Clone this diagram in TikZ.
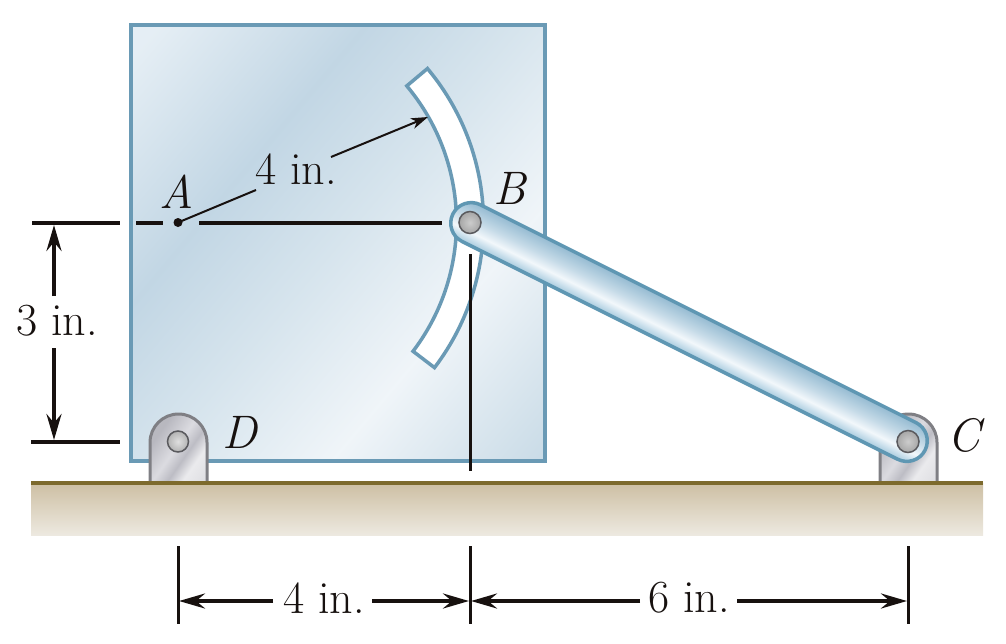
\documentclass[tikz,border=0pt]{standalone}
\usetikzlibrary{arrows.meta,shapes.misc}
\definecolor{plateedge}{HTML}{6A9AB5}
\definecolor{baredge}{HTML}{5F97B3}
\definecolor{ink}{HTML}{17110F}
\definecolor{groundline}{HTML}{7D6A2D}
\definecolor{groundtop}{HTML}{CDBFA3}
\definecolor{groundbot}{HTML}{EDE9E0}
\definecolor{pinedge}{HTML}{5A5A5E}
\definecolor{clevisedge}{HTML}{7F7F84}
\pgfdeclarehorizontalshading{plateshade}{100bp}{
  rgb(0bp)=(0.90,0.935,0.96);
  rgb(17bp)=(0.90,0.935,0.96);
  rgb(36bp)=(0.76,0.84,0.895);
  rgb(50bp)=(0.84,0.895,0.93);
  rgb(66bp)=(0.94,0.96,0.975);
  rgb(85bp)=(0.79,0.86,0.905);
  rgb(100bp)=(0.79,0.86,0.905)}
\pgfdeclareverticalshading{barshade}{100bp}{
  rgb(0bp)=(0.65,0.79,0.87);
  rgb(25bp)=(0.65,0.79,0.87);
  rgb(40bp)=(0.95,0.97,0.985);
  rgb(54bp)=(0.78,0.86,0.91);
  rgb(75bp)=(0.58,0.73,0.82);
  rgb(100bp)=(0.58,0.73,0.82)}
\pgfdeclarehorizontalshading{metalshade}{100bp}{
  rgb(0bp)=(0.72,0.72,0.75);
  rgb(30bp)=(0.72,0.72,0.75);
  rgb(48bp)=(0.86,0.86,0.88);
  rgb(58bp)=(0.74,0.74,0.77);
  rgb(68bp)=(0.92,0.92,0.93);
  rgb(100bp)=(0.82,0.82,0.84)}
\tikzset{
  x=1pt,y=-1pt,
  lab/.style={inner sep=0pt,outer sep=0pt,text=ink,font=\fontsize{46}{46}\selectfont},
  ilab/.style={lab,font=\fontsize{47}{47}\selectfont\itshape},
  heavy/.style={draw=ink,line width=4pt},
  medium/.style={draw=ink,line width=3pt},
  dimarrow/.style={heavy,-{Stealth[length=26pt,width=15pt,inset=9pt]}},
  radarrow/.style={draw=ink,line width=2pt,-{Stealth[length=17pt,width=11pt,inset=5pt]}},
  clevis/.style={draw=clevisedge,line width=3pt,shading=metalshade,shading angle=-35},
  pin/.style={circle,inner sep=0pt,minimum size=22pt,draw=pinedge,line width=1.5pt,inner color=gray!40,outer color=gray!70},
  hole/.style={circle,inner sep=0pt,minimum size=21pt,draw=pinedge,line width=1.5pt,inner color=gray!25,outer color=gray!60},
}
\begin{document}
\begin{tikzpicture}
\useasboundingbox (0,0) rectangle (1006,643);
% ground
\path[bottom color=groundbot,top color=groundtop] (31,483) rectangle (983,535);
% plate
\path[shading=plateshade,shading angle=-40] (131,25) rectangle (545,461);
\draw[plateedge,line width=4.5pt] (131,25) rectangle (545,461);
% slot
\draw[plateedge,fill=white,line width=3.5pt,line join=miter]
  plot[domain=-40:37.3,samples=60] ({244+239.5*cos(\x)},{222.5+239.5*sin(\x)})
  -- plot[domain=37.3:-40,samples=60] ({244+212.5*cos(\x)},{222.5+212.5*sin(\x)}) -- cycle;
% clevises
\draw[clevis] (150,482) -- (150,442.5) arc[start angle=180,end angle=0,radius=28.5pt] -- (207,482);
\draw[clevis] (880,482) -- (880,442.5) arc[start angle=180,end angle=0,radius=28.5pt] -- (937,482);
\draw[groundline,line width=4pt] (31,483) -- (983,483);
% named points
\coordinate (A) at (178,222.5);
\coordinate (Bpt) at (470,222.5);
\coordinate (Cpt) at (908,441.5);
\coordinate (Dpt) at (178,441.5);
\coordinate (vb1) at (470,254);
\coordinate (vb2) at (470,471);
\draw[medium] (vb1) -- (vb2);
% bar
\begin{scope}[transform canvas={rotate around={-26.565:(689,332)}}]
\node[rounded rectangle,inner sep=0pt,minimum width=528pt,minimum height=41pt,
  draw=baredge,line width=3.5pt,shading=barshade] (bar) at (689,332) {};
\end{scope}
% pins
\node[pin] (pinB) at (Bpt) {};
\node[pin] (pinC) at (Cpt) {};
\node[hole] (pinD) at (Dpt) {};
% horizontal extension at A
\coordinate (e1) at (32,222.5); \coordinate (e2) at (120,222.5);
\coordinate (e3) at (136,222.5); \coordinate (e4) at (163,222.5);
\coordinate (e5) at (199,222.5); \coordinate (e6) at (442,222.5);
\coordinate (e7) at (31,441.5); \coordinate (e8) at (120,441.5);
\draw[heavy] (e1) -- (e2);
\draw[heavy] (e3) -- (e4);
\draw[heavy] (e5) -- (e6);
\draw[heavy] (e7) -- (e8);
% A point
\fill[ink] (A) circle[radius=4.5pt];
% radius
\node[lab] (r4) at (296,169) {4 in.};
\coordinate (r1) at (256,190);
\coordinate (r2) at (331,157);
\coordinate (r3) at (428,117);
\draw[draw=ink,line width=2pt] (A) -- (r1);
\draw[radarrow] (r2) -- (r3);
% labels
\node[ilab] (la) at (177,192) {A};
\node[ilab] (lb) at (510,188) {B};
\node[ilab] (lc) at (964,435) {C};
\node[ilab] (ld) at (240,432) {D};
% 3 in.
\node[lab] (d3) at (57,321) {3 in.};
\coordinate (v1) at (54,296); \coordinate (v2) at (54,225);
\coordinate (v3) at (54,348); \coordinate (v4) at (54,440);
\draw[dimarrow] (v1) -- (v2);
\draw[dimarrow] (v3) -- (v4);
% bottom dims
\coordinate (t1a) at (178,546); \coordinate (t1b) at (178,624);
\coordinate (t2a) at (470,546); \coordinate (t2b) at (470,624);
\coordinate (t3a) at (908,546); \coordinate (t3b) at (908,624);
\draw[medium] (t1a) -- (t1b);
\draw[medium] (t2a) -- (t2b);
\draw[medium] (t3a) -- (t3b);
\node[lab] (d4) at (324,598) {4 in.};
\node[lab] (d6) at (689,598) {6 in.};
\coordinate (h1) at (273,601); \coordinate (h2) at (179,601);
\coordinate (h3) at (372,601); \coordinate (h4) at (469,601);
\coordinate (h5) at (640,601); \coordinate (h6) at (471,601);
\coordinate (h7) at (737,601); \coordinate (h8) at (907,601);
\draw[dimarrow] (h1) -- (h2);
\draw[dimarrow] (h3) -- (h4);
\draw[dimarrow] (h5) -- (h6);
\draw[dimarrow] (h7) -- (h8);
\end{tikzpicture}
\end{document}
